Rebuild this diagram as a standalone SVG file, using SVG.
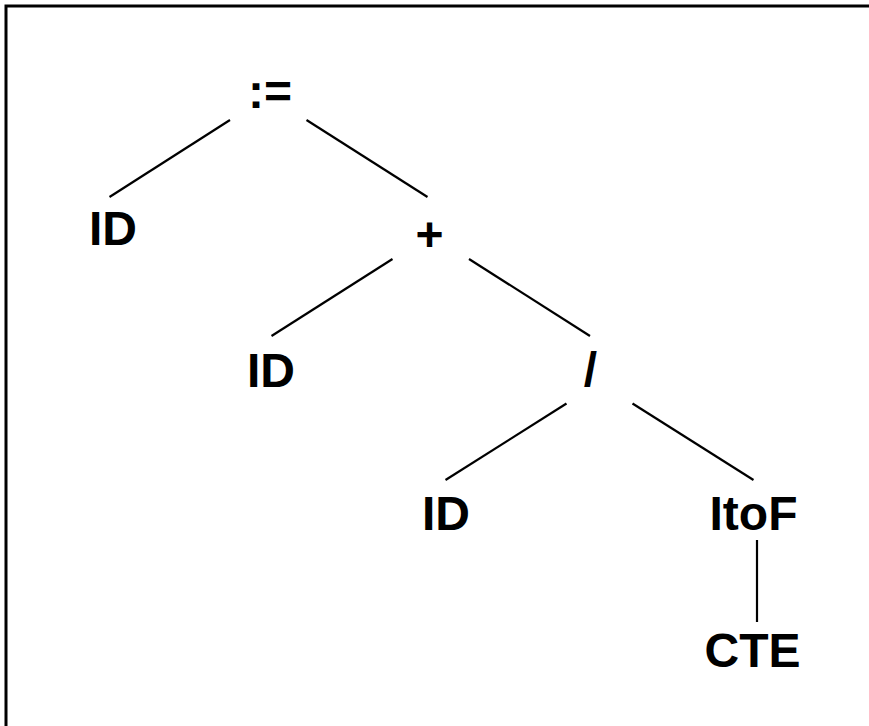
<svg xmlns="http://www.w3.org/2000/svg" width="869" height="726" viewBox="0 0 869 726">
<style>
.lbl{font-family:"Liberation Sans",Arial,sans-serif;font-weight:bold;font-size:48px;fill:#000;text-anchor:middle}
.edge{stroke:#000;stroke-width:2.2;fill:none}
</style>
<rect width="869" height="726" fill="#fff"/>
<path d="M6,726 V6 H869" fill="none" stroke="#000" stroke-width="3"/>
<g id="connectors">
<line class="edge" x1="230" y1="120" x2="109.5" y2="197"/>
<line class="edge" x1="306.5" y1="120" x2="427.5" y2="197"/>
<line class="edge" x1="392.5" y1="259" x2="271.5" y2="336"/>
<line class="edge" x1="469" y1="259" x2="590" y2="336"/>
<line class="edge" x1="566.5" y1="403.5" x2="445.5" y2="480"/>
<line class="edge" x1="632.5" y1="403.5" x2="753.5" y2="480"/>
<line class="edge" x1="757" y1="540" x2="757" y2="622"/>
</g>
<g id="n-assign"><text class="lbl" x="270" y="108">:=</text></g>
<g id="n-id1"><text class="lbl" x="113" y="245">ID</text></g>
<g id="n-plus"><text class="lbl" x="429.5" y="251">+</text></g>
<g id="n-id2"><text class="lbl" x="271" y="387">ID</text></g>
<g id="n-div"><text class="lbl" x="590.5" y="386">/</text></g>
<g id="n-id3"><text class="lbl" x="446" y="530">ID</text></g>
<g id="n-itof"><text class="lbl" x="753.5" y="530">ItoF</text></g>
<g id="n-cte"><text class="lbl" x="752.5" y="667">CTE</text></g>
</svg>
